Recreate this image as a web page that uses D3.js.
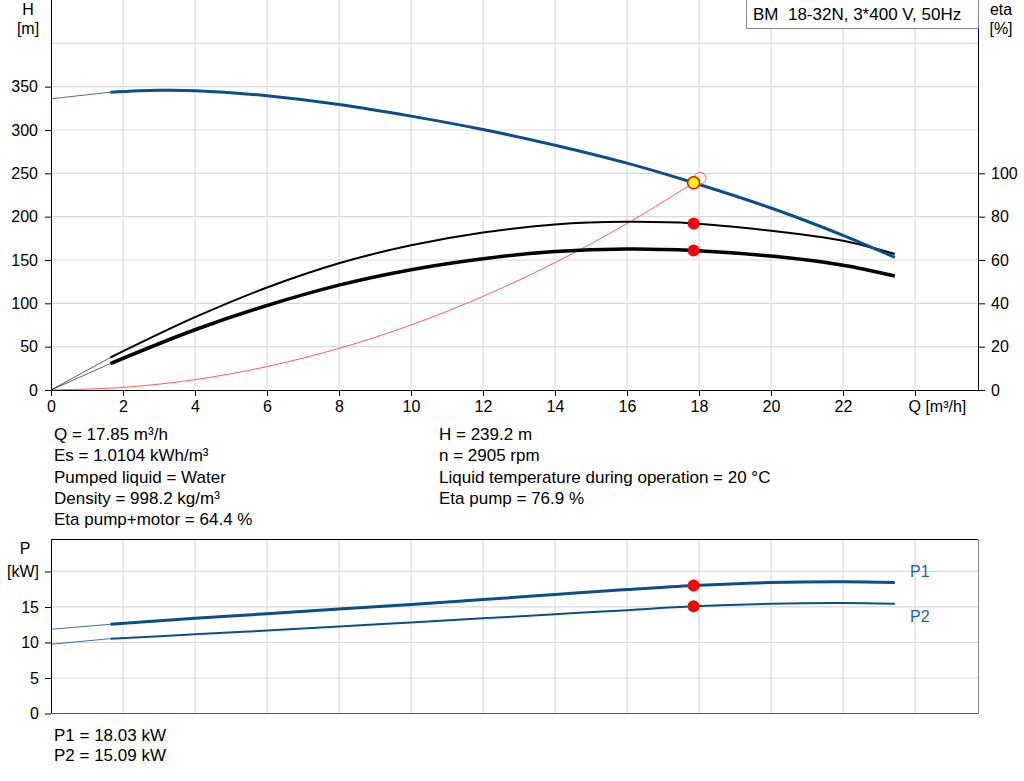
<!DOCTYPE html>
<html>
<head>
<meta charset="utf-8">
<script src="https://cdn.jsdelivr.net/npm/d3@7"></script>
<style>
  body { margin: 0; background: #fff; }
  svg { display: block; font-family: Arial, "Liberation Sans", sans-serif; }
  .grid line { stroke: #d9d9d9; stroke-width: 1.2; }
  .ax path, .ax line { stroke: #000; }
  .ax text { font-size: 16px; fill: #000; }
  .info { font-size: 17px; fill: #000; }
</style>
</head>
<body>
<div id="chart"></div>
<script>
// head / efficiency curves
var qH = [0, 1.65, 3, 4, 6, 8, 10, 12, 14, 16, 17.85, 20, 22, 23.44];
var headM = [336, 343.6, 345.8, 345.4, 339.6, 329.4, 316, 300.5, 282.5, 261.8, 239.2, 210, 178.5, 153];

var qEta = [0, 1.65, 4, 6, 8, 10, 12, 14, 16, 17.85, 20, 22, 23.44];
var etaPump = [0, 15, 33.6, 47.3, 58.5, 66.8, 72.7, 76.4, 77.6, 76.9, 73.5, 68.9, 62.8];
var etaTotal = [0, 12.2, 27.8, 39, 48.4, 55.5, 60.6, 63.9, 65.1, 64.4, 61.8, 57.6, 52.6];

// system curve
var qSys = [0, 2, 4, 6, 8, 10, 12, 14, 16, 17.85, 18.03];
var hSys = [0, 3, 12, 27, 48, 75, 108, 147, 192, 239.2, 244.3];

// power curves
var qP = [0, 1.65, 4, 6, 8, 10, 12, 14, 16, 17.85, 20, 22, 23.44];
var p1 = [11.86, 12.56, 13.4, 14.05, 14.7, 15.35, 16.05, 16.75, 17.45, 18.03, 18.45, 18.55, 18.45];
var p2 = [9.75, 10.54, 11.15, 11.68, 12.24, 12.82, 13.4, 13.98, 14.55, 15.09, 15.45, 15.55, 15.45];

var qDuty = 17.85, hDuty = 239.2, etaPumpDuty = 76.9, etaTotalDuty = 64.4, p1Duty = 18.03, p2Duty = 15.09;
var qStart = 1.65;

var qTicks = [0, 2, 4, 6, 8, 10, 12, 14, 16, 18, 20, 22, 24];
var hTicks = [0, 50, 100, 150, 200, 250, 300, 350];
var hGrid = [50, 100, 150, 200, 250, 300, 350, 400];
var etaTicks = [0, 20, 40, 60, 80, 100];
var pTicks = [0, 5, 10, 15, 20];

var leftText = ["Q = 17.85 m³/h", "Es = 1.0104 kWh/m³", "Pumped liquid = Water", "Density = 998.2 kg/m³", "Eta pump+motor = 64.4 %"];
var rightText = ["H = 239.2 m", "n = 2905 rpm", "Liquid temperature during operation = 20 °C", "Eta pump = 76.9 %"];
var powerText = ["P1 = 18.03 kW", "P2 = 15.09 kW"];

var blue = "#0b4e8b";

var svg = d3.select("#chart").append("svg")
  .attr("width", 1024).attr("height", 781);

var x = d3.scaleLinear().domain([0, 25.75]).range([51, 978]);
var yH = d3.scaleLinear().domain([0, 450]).range([390, 0]);
var yEta = d3.scaleLinear().domain([0, 180]).range([390, 0]);
var yP = d3.scaleLinear().domain([0, 24.5]).range([713.5, 539.5]);

var zip = function(qs, vs) {
  return qs.map(function(q, i) { return { q: q, v: vs[i] }; });
};
var lineOf = function(y) {
  return d3.line().x(function(d) { return x(d.q); }).y(function(d) { return y(d.v); })
    .curve(d3.curveCatmullRom.alpha(0.5));
};

// ---- grids
var g1 = svg.append("g").attr("class", "grid");
g1.selectAll("line.v").data(qTicks.slice(1)).enter().append("line")
  .attr("x1", x).attr("x2", x).attr("y1", 0).attr("y2", 390);
g1.selectAll("line.h").data(hGrid).enter().append("line")
  .attr("x1", 51).attr("x2", 978).attr("y1", yH).attr("y2", yH);

var g2 = svg.append("g").attr("class", "grid");
g2.selectAll("line.v").data(qTicks.slice(1)).enter().append("line")
  .attr("x1", x).attr("x2", x).attr("y1", 539.5).attr("y2", 713.5);
g2.selectAll("line.h").data(pTicks.slice(1)).enter().append("line")
  .attr("x1", 51).attr("x2", 978).attr("y1", yP).attr("y2", yP);

// ---- curves, split into thin (extrapolated) and thick part
var drawSplit = function(g, data, y, color, wThin, wThick) {
  g.append("path").datum(data.filter(function(d) { return d.q <= qStart; }))
    .attr("d", lineOf(y)).attr("fill", "none").attr("stroke", color).attr("stroke-width", wThin).attr("opacity", 0.8);
  g.append("path").datum(data.filter(function(d) { return d.q >= qStart; }))
    .attr("d", lineOf(y)).attr("fill", "none").attr("stroke", color).attr("stroke-width", wThick);
};

var curves = svg.append("g");
curves.append("path").datum(zip(qSys, hSys))
  .attr("d", lineOf(yH)).attr("fill", "none").attr("stroke", "#ff3030").attr("stroke-width", 0.8);

drawSplit(curves, zip(qEta, etaPump), yEta, "#000", 0.8, 2);
drawSplit(curves, zip(qEta, etaTotal), yEta, "#000", 0.8, 3.5);
drawSplit(curves, zip(qH, headM), yH, blue, 1, 3);
drawSplit(curves, zip(qP, p1), yP, blue, 1, 3);
drawSplit(curves, zip(qP, p2), yP, blue, 1, 2);

// ---- duty points
curves.append("circle").attr("cx", x(qSys[qSys.length - 1])).attr("cy", yH(hSys[hSys.length - 1])).attr("r", 6)
  .attr("fill", "none").attr("stroke", "#ff6060").attr("stroke-width", 1);
curves.append("circle").attr("cx", x(qDuty)).attr("cy", yH(hDuty)).attr("r", 6)
  .attr("fill", "#ffff00").attr("stroke", "#ff0000").attr("stroke-width", 1.5);
[[yEta, etaPumpDuty], [yEta, etaTotalDuty], [yP, p1Duty], [yP, p2Duty]].forEach(function(p) {
  curves.append("circle").attr("cx", x(qDuty)).attr("cy", p[0](p[1])).attr("r", 6).attr("fill", "#ff0000");
});

// ---- axes top chart
svg.append("g").attr("class", "ax").attr("transform", "translate(0,390)")
  .call(d3.axisBottom(x).tickValues(qTicks).tickSize(6).tickPadding(5)
    .tickFormat(function(d) { return d === 24 ? "Q [m³/h]" : d; }))
  .call(function(g) {
    g.select(".domain").attr("d", "M51,0.5H978");
    g.selectAll(".tick text").filter(function(d) { return d === 24; })
      .attr("text-anchor", "start").attr("dx", -7);
  });

svg.append("g").attr("class", "ax").attr("transform", "translate(51,0)")
  .call(d3.axisLeft(yH).tickValues(hTicks).tickSize(6).tickPadding(7))
  .call(function(g) { g.select(".domain").attr("d", "M0.5,0V390"); });

svg.append("g").attr("class", "ax").attr("transform", "translate(978,0)")
  .call(d3.axisRight(yEta).tickValues(etaTicks).tickSize(7).tickPadding(6))
  .call(function(g) { g.select(".domain").attr("d", "M0.5,0V390"); });

// ---- axes bottom chart
svg.append("g").attr("class", "ax").attr("transform", "translate(51,0)")
  .call(d3.axisLeft(yP).tickValues(pTicks).tickSize(6).tickPadding(6)
    .tickFormat(function(d) { return d === 20 ? "[kW]" : d; }))
  .call(function(g) { g.select(".domain").attr("d", "M0.5,539.5V713.5"); });

svg.append("line").attr("x1", 51).attr("x2", 978).attr("y1", 539.5).attr("y2", 539.5).attr("stroke", "#000");
svg.append("line").attr("x1", 51).attr("x2", 978.5).attr("y1", 713.5).attr("y2", 713.5).attr("stroke", "#555");
svg.append("line").attr("x1", 978.5).attr("x2", 978.5).attr("y1", 539.5).attr("y2", 713.5).attr("stroke", "#888");

// ---- axis titles
var title = function(t, cx, y) {
  svg.append("text").attr("x", cx).attr("y", y).attr("text-anchor", "middle")
    .attr("font-size", 16).text(t);
};
title("H", 28, 15);
title("[m]", 28, 34);
title("eta", 1001, 15);
title("[%]", 1001, 34);
title("P", 25, 554);

svg.append("text").attr("x", 910).attr("y", 577).attr("font-size", 16).attr("fill", "#1f5fa0").text("P1");
svg.append("text").attr("x", 910).attr("y", 622).attr("font-size", 16).attr("fill", "#1f5fa0").text("P2");

// ---- product label
svg.append("rect").attr("x", 746.5).attr("y", -1).attr("width", 232).attr("height", 29.5)
  .attr("fill", "#fff").attr("stroke", "#888");
svg.append("text").attr("x", 753).attr("y", 20).attr("font-size", 17).style("white-space", "pre")
  .text("BM  18-32N, 3*400 V, 50Hz");

// ---- info texts
svg.selectAll("text.l").data(leftText).enter().append("text").attr("class", "info")
  .attr("x", 54).attr("y", function(d, i) { return 440 + i * 21.3; }).text(function(d) { return d; });
svg.selectAll("text.r").data(rightText).enter().append("text").attr("class", "info")
  .attr("x", 439).attr("y", function(d, i) { return 440 + i * 21.3; }).text(function(d) { return d; });
svg.selectAll("text.p").data(powerText).enter().append("text").attr("class", "info")
  .attr("x", 54).attr("y", function(d, i) { return 740.5 + i * 20.7; }).text(function(d) { return d; });
</script>
</body>
</html>
